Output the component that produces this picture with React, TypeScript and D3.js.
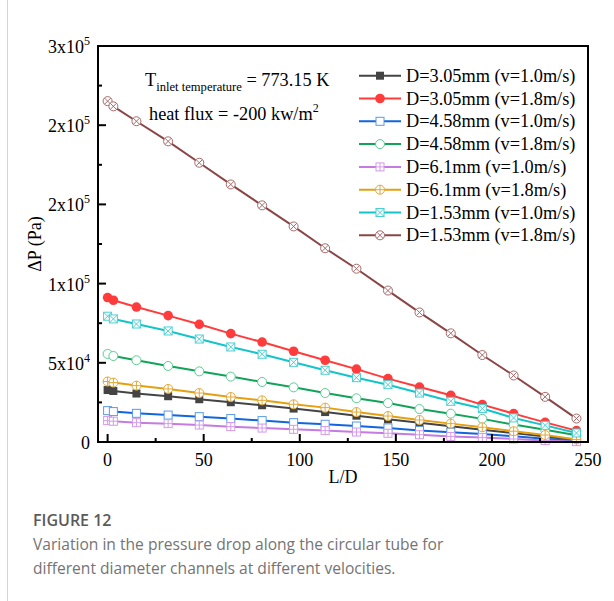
import React from "react";
import * as d3 from "d3";

// L/D positions of the sampled points
const ld = [0, 3, 15, 31.5, 47.7, 64.1, 80.4, 96.8, 113.2, 129.5, 145.9, 162.3, 178.6, 195, 211.3, 227.7, 244];

// pressure drop, kPa
const d305v10 = [32.8, 32.2, 30.6, 28.9, 27.0, 25.1, 23.2, 21.1, 18.9, 16.6, 14.3, 12.1, 9.9, 7.8, 5.6, 3.4, 1.0];
const d305v18 = [91.2, 89.5, 85.2, 79.8, 74.3, 68.4, 63.1, 57.3, 51.6, 46.0, 40.0, 34.7, 29.5, 23.6, 17.9, 12.4, 7.2];
const d458v10 = [19.8, 19.2, 18.1, 17.0, 16.0, 14.8, 13.5, 12.2, 11.2, 10.1, 8.9, 7.3, 6.2, 5.0, 3.6, 2.1, 0.6];
const d458v18 = [55.6, 54.3, 51.6, 48.0, 44.6, 41.3, 37.9, 34.5, 30.9, 27.6, 24.6, 20.8, 17.9, 14.6, 11.0, 7.8, 4.2];
const d61v10 = [13.5, 13.1, 12.2, 11.6, 10.7, 9.7, 8.8, 8.0, 7.2, 6.3, 5.5, 4.6, 3.5, 2.8, 1.9, 0.9, 0.2];
const d61v18 = [38.2, 37.5, 35.6, 33.5, 30.9, 28.4, 26.3, 23.8, 21.7, 18.9, 16.4, 13.9, 11.6, 9.3, 6.8, 4.4, 1.6];
const d153v10 = [79.4, 77.7, 74.5, 70.1, 65.0, 60.0, 55.4, 50.3, 45.3, 40.6, 36.2, 30.9, 25.7, 21.1, 15.2, 10.5, 5.7];
const d153v18 = [215.2, 211.9, 202.5, 189.8, 176.3, 162.6, 149.4, 136.1, 122.3, 109.4, 95.6, 81.8, 68.6, 54.9, 42.0, 28.5, 14.8];

const seriesNames = [
  "D=3.05mm (v=1.0m/s)",
  "D=3.05mm (v=1.8m/s)",
  "D=4.58mm (v=1.0m/s)",
  "D=4.58mm (v=1.8m/s)",
  "D=6.1mm (v=1.0m/s)",
  "D=6.1mm (v=1.8m/s)",
  "D=1.53mm (v=1.0m/s)",
  "D=1.53mm (v=1.8m/s)",
];
const seriesValues = [d305v10, d305v18, d458v10, d458v18, d61v10, d61v18, d153v10, d153v18];

const xTicks = [0, 50, 100, 150, 200, 250];
const yTicks = [0, 50000, 100000, 150000, 200000, 250000];
const yTickMant = ["0", "5x10", "1x10", "2x10", "2x10", "3x10"];
const yTickExp = ["", "4", "5", "5", "5", "5"];

const styles = [
  { line: "#444444", mk: "#444444", shape: "sqFill" },
  { line: "#ff3b3b", mk: "#ff3b3b", shape: "ciFill" },
  { line: "#1166dd", mk: "#5a9ae8", shape: "sq" },
  { line: "#11a35a", mk: "#5ccc92", shape: "ci" },
  { line: "#c57be0", mk: "#d49be8", shape: "sqPlus" },
  { line: "#e4a010", mk: "#e2a83a", shape: "ciPlus" },
  { line: "#14c4c8", mk: "#4ccfd2", shape: "sqX" },
  { line: "#8a4646", mk: "#a86a6a", shape: "ciX" },
];

const W = 614;
const H = 601;
const left = 98, right = 588, top = 46, bottom = 442;
const serif = "'Liberation Serif', 'Times New Roman', serif";

const x = d3.scaleLinear().domain([-5, 250]).range([left, right]);
const y = d3.scaleLinear().domain([0, 250000]).range([bottom, top]);

function Marker({ shape, cx, cy, color }: { shape: string; cx: number; cy: number; color: string }) {
  const s = 4;
  const r = 4.5;
  if (shape === "sqFill") return <rect x={cx - s} y={cy - s} width={2 * s} height={2 * s} fill={color} />;
  if (shape === "ciFill") return <circle cx={cx} cy={cy} r={r + 0.3} fill={color} />;
  const isSq = shape.startsWith("sq");
  const k = isSq ? s : r;
  const d = isSq ? s : r * 0.7071;
  return (
    <g stroke={color} strokeWidth={1} fill="#fff">
      {isSq ? (
        <rect x={cx - s} y={cy - s} width={2 * s} height={2 * s} />
      ) : (
        <circle cx={cx} cy={cy} r={r} />
      )}
      {shape.endsWith("Plus") && (
        <path d={`M${cx - k},${cy}H${cx + k}M${cx},${cy - k}V${cy + k}`} fill="none" />
      )}
      {shape.endsWith("X") && (
        <path d={`M${cx - d},${cy - d}L${cx + d},${cy + d}M${cx - d},${cy + d}L${cx + d},${cy - d}`} fill="none" />
      )}
    </g>
  );
}

export default function App() {
  const line = d3
    .line<number>()
    .x((_, i) => x(ld[i]))
    .y((v) => y(v * 1000));

  const xMinor = d3.range(25, 250, 50);
  const yMinor = d3.range(25000, 250000, 50000);

  return (
    <svg width={W} height={H} style={{ position: "absolute", left: 0, top: 0, background: "#fff" }}>
      <line x1={7.5} x2={7.5} y1={0} y2={H} stroke="#d4d4d4" strokeWidth={1} />

      {/* series */}
      {seriesValues.map((vals, si) => (
        <g key={si}>
          <path d={line(vals) || ""} fill="none" stroke={styles[si].line} strokeWidth={2} />
          {vals.map((v, i) => (
            <Marker key={i} shape={styles[si].shape} cx={x(ld[i])} cy={y(v * 1000)} color={styles[si].mk} />
          ))}
        </g>
      ))}

      {/* frame */}
      <rect x={left} y={top} width={right - left} height={bottom - top} fill="none" stroke="#000" strokeWidth={2} />

      {/* x axis ticks */}
      {xTicks.map((t) => (
        <g key={t}>
          <line x1={x(t)} x2={x(t)} y1={bottom} y2={bottom - 8} stroke="#000" strokeWidth={2} />
          <text x={x(t)} y={466} textAnchor="middle" fontFamily={serif} fontSize={18}>
            {t}
          </text>
        </g>
      ))}
      {xMinor.map((t) => (
        <line key={t} x1={x(t)} x2={x(t)} y1={bottom} y2={bottom - 4} stroke="#000" strokeWidth={2} />
      ))}

      {/* y axis ticks */}
      {yTicks.map((t, i) => (
        <g key={t}>
          <line x1={left} x2={left + 8} y1={y(t)} y2={y(t)} stroke="#000" strokeWidth={2} />
          <text x={90} y={y(t) + 7} textAnchor="end" fontFamily={serif} fontSize={18}>
            {yTickMant[i]}
            {yTickExp[i] && (
              <tspan fontSize={12} dy={-8}>
                {yTickExp[i]}
              </tspan>
            )}
          </text>
        </g>
      ))}
      {yMinor.map((t) => (
        <line key={t} x1={left} x2={left + 4} y1={y(t)} y2={y(t)} stroke="#000" strokeWidth={2} />
      ))}

      {/* axis titles */}
      <text x={(left + right) / 2} y={483} textAnchor="middle" fontFamily={serif} fontSize={18}>
        L/D
      </text>
      <text
        transform={`translate(41,${(top + bottom) / 2}) rotate(-90)`}
        textAnchor="middle"
        fontFamily={serif}
        fontSize={18}
      >
        ΔP (Pa)
      </text>

      {/* annotation */}
      <text x={145} y={86} fontFamily={serif} fontSize={18.3}>
        T
        <tspan fontSize={12.6} dy={5}>
          inlet temperature
        </tspan>
        <tspan dy={-5}> = 773.15 K</tspan>
      </text>
      <text x={149} y={120} fontFamily={serif} fontSize={18.3}>
        heat flux = -200 kw/m
        <tspan fontSize={12} dy={-8}>
          2
        </tspan>
      </text>

      {/* legend */}
      {seriesNames.map((name, i) => {
        const ly = 75.7 + i * 22.8;
        return (
          <g key={name}>
            <line x1={359} x2={401} y1={ly} y2={ly} stroke={styles[i].line} strokeWidth={2} />
            <Marker shape={styles[i].shape} cx={380} cy={ly} color={styles[i].mk} />
            <text x={406} y={ly + 6} fontFamily={serif} fontSize={18.3}>
              {name}
            </text>
          </g>
        );
      })}

      {/* caption */}
      <text x={33} y={526} fontFamily="'Open Sans', sans-serif" fontSize={16} fontWeight={600} fill="#5a5a5a">
        FIGURE 12
      </text>
      <text x={33} y={550} fontFamily="'Open Sans', sans-serif" fontSize={15.6} fill="#747474">
        Variation in the pressure drop along the circular tube for
      </text>
      <text x={33} y={574} fontFamily="'Open Sans', sans-serif" fontSize={15.6} fill="#747474">
        different diameter channels at different velocities.
      </text>
    </svg>
  );
}
